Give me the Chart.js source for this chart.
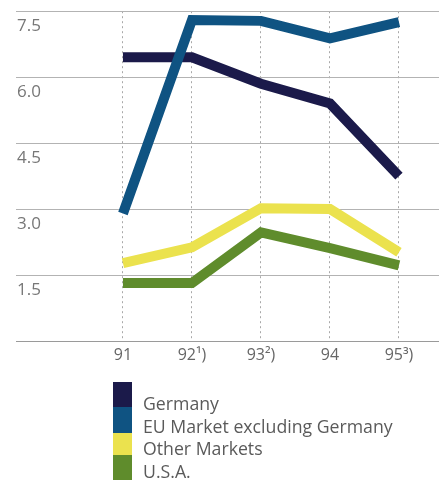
<!DOCTYPE html>
<html>
<head>
<meta charset="utf-8">
<script src="https://cdn.jsdelivr.net/npm/chart.js@4"></script>
<style>
  html, body { margin: 0; padding: 0; background: #fff; }
  #wrap { position: relative; width: 439px; height: 480px; overflow: hidden; }
  #legend { position: absolute; left: 113px; top: 382px; }
  #legend .sw { position: absolute; left: 0; width: 19px; }
  #legend .txt { position: absolute; left: 30px; white-space: nowrap;
    font: 17.7px "Open Sans", sans-serif; color: #5a5a5a; line-height: 22.5px; }
</style>
</head>
<body>
<div id="wrap">
  <canvas id="myChart" width="439" height="480"></canvas>
  <div id="legend"></div>
</div>
<script>
// anos e rotulos do eixo x
const years = [91, 92, 93, 94, 95];
const yearLabels = ['91', '92¹)', '93²)', '94', '95³)'];

// series
const germany = [6.45, 6.45, 5.85, 5.4, 3.75];
const euMarket = [2.9, 7.3, 7.28, 6.88, 7.25];
const otherMarkets = [1.77, 2.13, 3.02, 3.0, 2.02];
const usa = [1.32, 1.32, 2.47, 2.11, 1.72];

const seriesNames = ['Germany', 'EU Market excluding Germany', 'Other Markets', 'U.S.A.'];
const seriesColors = ['#1b1a4a', '#0f5382', '#ebe24e', '#5f8c2c'];

function pts(vals) {
    return years.map((x, i) => ({ x: x, y: vals[i] }));
}

const ctx = document.getElementById('myChart');
const myChart = new Chart(ctx, {
    type: 'line',
    data: {
        datasets: [germany, euMarket, otherMarkets, usa].map((vals, i) => ({
            label: seriesNames[i],
            data: pts(vals),
            borderColor: seriesColors[i],
            backgroundColor: seriesColors[i],
            borderWidth: 10,
            pointRadius: 0,
            tension: 0,
            order: i === 1 ? 0 : 1 // EU fica por cima
        }))
    },
    options: {
        responsive: false,
        animation: false,
        layout: { padding: { left: 16, top: 11, right: 0, bottom: 110 } },
        plugins: { legend: { display: false }, tooltip: { enabled: false } },
        scales: {
            x: {
                type: 'linear',
                min: 89.45,
                max: 95.58,
                afterBuildTicks: (scale) => { scale.ticks = years.map(v => ({ value: v })); },
                afterFit: (scale) => { scale.height = 29; },
                grid: { color: '#a8a8a8', drawTicks: false },
                border: { color: '#9a9a9a', dash: [2, 3] },
                ticks: {
                    padding: 5,
                    color: '#666',
                    font: { family: 'Open Sans', size: 16 },
                    maxRotation: 0,
                    callback: (v) => yearLabels[years.indexOf(v)]
                }
            },
            y: {
                min: 0,
                max: 7.5,
                afterFit: (scale) => { scale.width = 0; },
                grid: { color: '#b3b3b3', drawTicks: false },
                border: { display: false },
                ticks: {
                    stepSize: 1.5,
                    mirror: true,
                    padding: 1,
                    labelOffset: 15,
                    color: '#777',
                    font: { family: 'Open Sans', size: 17 },
                    callback: (v) => v === 0 ? '' : v.toFixed(1)
                }
            }
        }
    }
});

// legenda em html
const legend = document.getElementById('legend');
const swH = [25, 26, 22, 25];
let swTop = 0;
seriesNames.forEach((name, i) => {
    const sw = document.createElement('div');
    sw.className = 'sw';
    sw.style.top = swTop + 'px';
    sw.style.height = swH[i] + 'px';
    sw.style.background = seriesColors[i];
    legend.appendChild(sw);
    swTop += swH[i];

    const t = document.createElement('div');
    t.className = 'txt';
    t.style.top = (10 + i * 22.5) + 'px';
    t.textContent = name;
    legend.appendChild(t);
});
</script>
</body>
</html>
